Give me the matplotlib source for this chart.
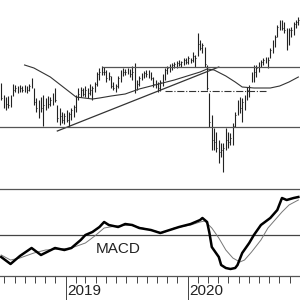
import numpy as np
import matplotlib
matplotlib.use("Agg")
import matplotlib.pyplot as plt
import matplotlib.dates as mdates
import datetime as dt

plt.rcParams['font.family'] = ['Liberation Sans', 'DejaVu Sans']

# weekly bars, first week ending 2018-06-22
start = dt.date(2018, 6, 22)
highs = [117, 105, 103, 104, 105, 116, 115, 114, 115, 114, 115, 114, 116, 122, 112, 102,
         100, 103, 105, 102, 104, 103, 107, 112, 95, 92, 88, 87, 90, 88, 92, 95,
         105, 112, 113, 112, 114, 112, 116, 114, 118, 128, 132, 134, 133, 130, 128, 124,
         118, 116, 124, 130, 132, 131, 132, 131, 134, 137, 120, 124, 127, 129, 130, 130,
         128, 123, 120, 118, 120, 126, 132, 134, 136, 137, 138, 139, 140, 139, 142, 142,
         144, 142, 148, 145, 167, 160, 157, 153, 135, 107, 85, 72, 68, 60, 57, 57,
         72, 68, 67, 77, 88, 100, 103, 102, 105, 113, 115, 128, 135, 135, 138, 140,
         142, 143, 143, 152, 160, 165, 175, 180, 180, 178, 172, 172, 173, 178, 180, 183]
lows = [100, 92, 90, 92, 93, 104, 108, 107, 108, 108, 108, 107, 109, 112, 95, 88,
        82, 88, 74, 90, 92, 94, 95, 98, 78, 75, 77, 76, 78, 73, 80, 83,
        88, 100, 103, 104, 103, 102, 105, 100, 108, 114, 120, 125, 125, 118, 120, 112,
        110, 108, 112, 118, 124, 125, 126, 123, 120, 107, 110, 114, 120, 122, 123, 122,
        120, 113, 112, 108, 109, 114, 120, 126, 128, 130, 132, 132, 134, 133, 135, 136,
        136, 137, 138, 133, 144, 150, 147, 133, 110, 73, 50, 50, 48, 37, 43, 28,
        50, 52, 55, 55, 73, 85, 87, 78, 90, 100, 103, 118, 118, 123, 128, 133,
        135, 137, 132, 142, 147, 153, 163, 170, 170, 167, 150, 155, 163, 165, 172, 175]
closes = [102, 95, 96, 95, 104, 110, 112, 110, 112, 110, 112, 110, 114, 113, 98, 92,
          96, 92, 95, 97, 96, 100, 105, 100, 82, 84, 80, 84, 80, 86, 90, 93,
          103, 106, 110, 106, 110, 107, 110, 112, 116, 126, 128, 128, 128, 122, 124, 114,
          112, 114, 122, 128, 128, 128, 130, 126, 128, 114, 116, 122, 125, 127, 126, 124,
          122, 116, 114, 112, 118, 124, 130, 132, 134, 135, 136, 137, 136, 138, 140, 138,
          142, 140, 144, 142, 156, 152, 155, 136, 112, 78, 60, 58, 52, 48, 50, 52,
          60, 58, 62, 74, 85, 95, 92, 98, 102, 110, 113, 126, 128, 132, 136, 138,
          140, 138, 140, 150, 158, 163, 173, 176, 172, 170, 155, 170, 170, 176, 178, 180]

# moving average read at some weeks
ma_weeks = [10, 14, 21, 32, 39, 42, 47, 53, 59, 64, 74, 85, 88, 91, 96, 100, 103, 108, 115, 119, 123, 127]
ma_vals = [135, 132, 123, 103, 101, 102, 104, 106, 111, 114, 120, 128, 131, 130, 124, 118, 113, 112, 112, 114, 118, 123]

support = 73
resistance = 133
target = 109
trend_weeks = [24, 93]
trend_vals = [69, 133]

# MACD (thick) and signal (thin)
macd_weeks = [0, 4, 8, 13, 17, 23, 27, 30, 34, 36, 39, 42, 44, 46, 50, 53, 56, 59, 64, 68, 72, 76,
              81, 85, 86, 88, 89, 90, 93, 94, 96, 98, 100, 101, 103, 106, 108, 111, 115, 118, 120, 122, 125, 127]
macd_vals = [-22, -29, -21, -13, -20, -13, -15, -13, -5, 0, 3, 8, 13, 10, 8, 11, 10, 7, 5, 2, 5, 8,
             11, 15, 17, 13, 2, -12, -22, -30, -33, -34, -33, -30, -18, -8, 0, 10, 17, 25, 37, 35, 37, 38]
sig_weeks = [0, 4, 8, 14, 19, 25, 30, 36, 40, 44, 49, 55, 64, 69, 74, 81, 85, 87, 90, 93, 96, 99,
             102, 104, 107, 111, 114, 117, 120, 123, 127]
sig_vals = [-20, -25, -23, -18, -15, -14, -13, -8, -1, 7, 9, 10, 5, 2, 7, 10, 13, 14, 7, -3, -15, -23,
            -27, -25, -17, -5, 7, 15, 23, 30, 35]


def wk(i):
    return mdates.date2num(start) + 7 * np.asarray(i)


fig = plt.figure(figsize=(3, 3), dpi=100)
x0 = mdates.date2num(start) - 3.5
x1 = x0 + 897.4

ax = fig.add_axes([0, 0.4, 1, 0.6])
ax.set_xlim(x0, x1)
ax.set_ylim(20, 200)
ax.axis('off')
d = wk(np.arange(len(highs)))
ax.vlines(d, lows, highs, color='#222222', lw=0.8)
ax.hlines(closes, d, d + 2.5, color='#222222', lw=0.7)
ax.plot(wk(ma_weeks), ma_vals, color='#333333', lw=0.8)
ax.plot(wk(trend_weeks), trend_vals, color='#333333', lw=0.9)
ax.axhline(support, color='#555555', lw=0.9)
ax.hlines(resistance, wk(43), x1, color='#555555', lw=0.9)
ax.hlines(target, wk(70), wk(113), color='#333333', lw=0.8, linestyles='dashdot')

bx = fig.add_axes([0, 0.08, 1, 0.29])
bx.set_xlim(x0, x1)
bx.set_ylim(-41, 46)
bx.axhline(0, color='#444444', lw=0.9)
bx.plot(wk(sig_weeks), sig_vals, color='#777777', lw=0.7)
bx.plot(wk(macd_weeks), macd_vals, color='black', lw=1.8)
bx.text(wk(50), -14, 'MACD', fontsize=11, color='#222222', ha='center', va='center')
for s in ['left', 'right']:
    bx.spines[s].set_visible(False)
for s in ['top', 'bottom']:
    bx.spines[s].set_color('#555555')
    bx.spines[s].set_linewidth(0.9)
bx.set_yticks([])
bx.xaxis.set_minor_locator(mdates.MonthLocator())
bx.xaxis.set_major_locator(mdates.YearLocator())
bx.tick_params(axis='x', which='minor', length=5, width=0.7, color='#444444')
bx.tick_params(axis='x', which='major', length=18, width=0.7, color='#444444', labelbottom=False)
for yr in [2019, 2020]:
    bx.text(mdates.date2num(dt.date(yr, 1, 1)) + 5, -0.09, str(yr), transform=bx.get_xaxis_transform(),
            fontsize=11, ha='left', va='top', color='#222222')

fig.savefig('out.png', dpi=100)
